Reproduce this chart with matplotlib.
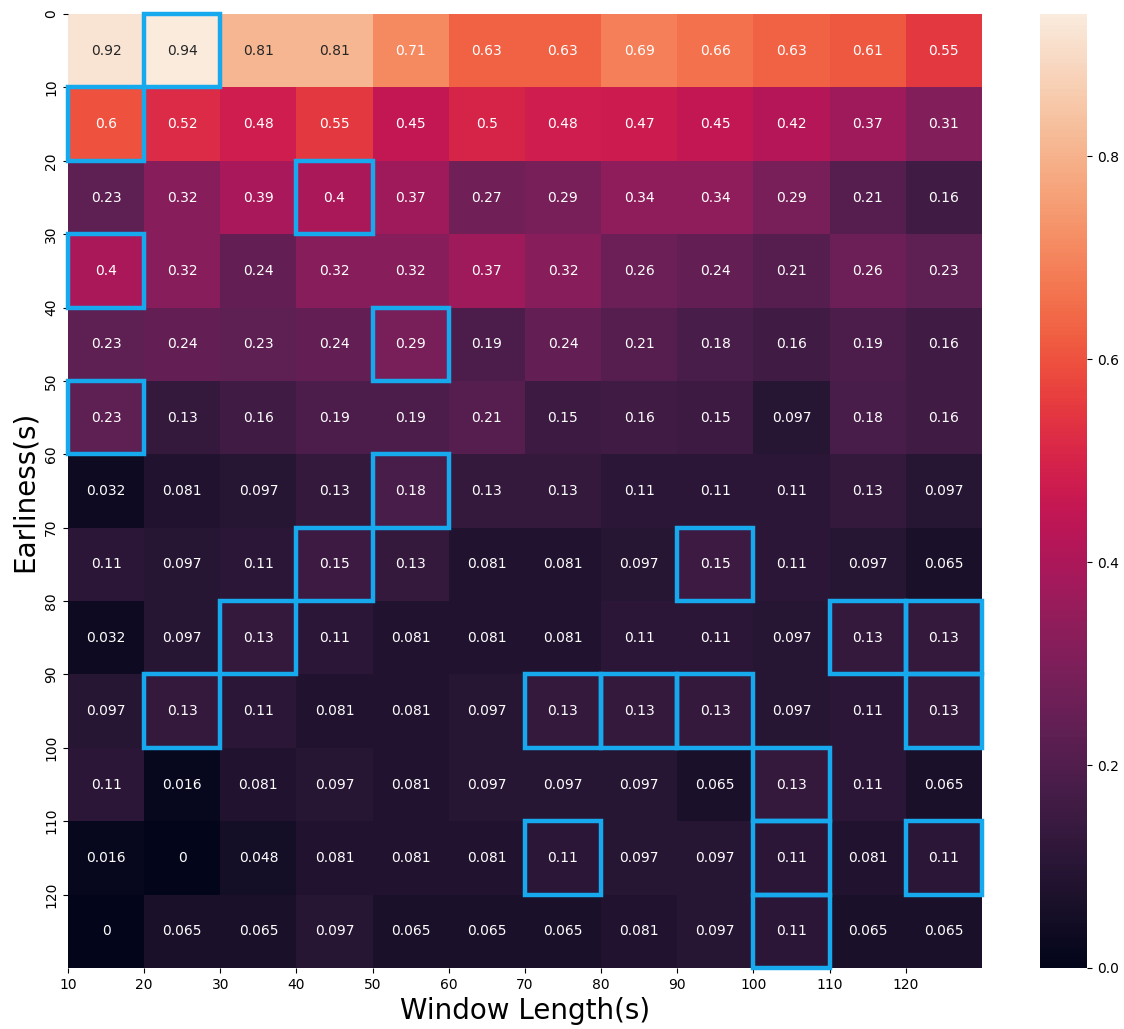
import matplotlib

matplotlib.use("Agg")
import matplotlib.pyplot as plt
import numpy as np
import seaborn as sns
from matplotlib.patches import Rectangle

# window length ticks (x) and earliness ticks (y), placed on cell edges
window_labels = [10, 20, 30, 40, 50, 60, 70, 80, 90, 100, 110, 120]
earliness_labels = [0, 10, 20, 30, 40, 50, 60, 70, 80, 90, 100, 110, 120]

scores = [
    [0.92, 0.94, 0.81, 0.81, 0.71, 0.63, 0.63, 0.69, 0.66, 0.63, 0.61, 0.55],
    [0.6, 0.52, 0.48, 0.55, 0.45, 0.5, 0.48, 0.47, 0.45, 0.42, 0.37, 0.31],
    [0.23, 0.32, 0.39, 0.4, 0.37, 0.27, 0.29, 0.34, 0.34, 0.29, 0.21, 0.16],
    [0.4, 0.32, 0.24, 0.32, 0.32, 0.37, 0.32, 0.26, 0.24, 0.21, 0.26, 0.23],
    [0.23, 0.24, 0.23, 0.24, 0.29, 0.19, 0.24, 0.21, 0.18, 0.16, 0.19, 0.16],
    [0.23, 0.13, 0.16, 0.19, 0.19, 0.21, 0.15, 0.16, 0.15, 0.097, 0.18, 0.16],
    [0.032, 0.081, 0.097, 0.13, 0.18, 0.13, 0.13, 0.11, 0.11, 0.11, 0.13, 0.097],
    [0.11, 0.097, 0.11, 0.15, 0.13, 0.081, 0.081, 0.097, 0.15, 0.11, 0.097, 0.065],
    [0.032, 0.097, 0.13, 0.11, 0.081, 0.081, 0.081, 0.11, 0.11, 0.097, 0.13, 0.13],
    [0.097, 0.13, 0.11, 0.081, 0.081, 0.097, 0.13, 0.13, 0.13, 0.097, 0.11, 0.13],
    [0.11, 0.016, 0.081, 0.097, 0.081, 0.097, 0.097, 0.097, 0.065, 0.13, 0.11, 0.065],
    [0.016, 0, 0.048, 0.081, 0.081, 0.081, 0.11, 0.097, 0.097, 0.11, 0.081, 0.11],
    [0, 0.065, 0.065, 0.097, 0.065, 0.065, 0.065, 0.081, 0.097, 0.11, 0.065, 0.065],
]

matrix = np.array(scores)

fig = plt.figure(figsize=(11.24, 10.29), dpi=100)
ax = fig.add_axes([0.0605, 0.0593, 0.813, 0.927])
cax = fig.add_axes([0.925, 0.0593, 0.042, 0.927])

sns.heatmap(matrix, ax=ax, cbar_ax=cax, cmap="rocket", vmin=0,
            annot=True, annot_kws={"fontsize": 10})

ax.set_xticks(range(len(window_labels)))
ax.set_xticklabels(window_labels, rotation=0, fontsize=10)
ax.set_yticks(range(len(earliness_labels)))
ax.set_yticklabels(earliness_labels, rotation=90, va="center", fontsize=10)
ax.set_xlabel("Window Length(s)", fontsize=20)
ax.set_ylabel("Earliness(s)", fontsize=20)
cax.tick_params(labelsize=10)

# outline the best window length(s) for every earliness row
for i, row in enumerate(matrix):
    for j in np.flatnonzero(np.isclose(row, row.max())):
        ax.add_patch(Rectangle((j, i), 1, 1, fill=False, edgecolor="#17a9ee",
                               linewidth=3.2, clip_on=False, zorder=5))

fig.savefig("out.png", dpi=100)
plt.close(fig)
